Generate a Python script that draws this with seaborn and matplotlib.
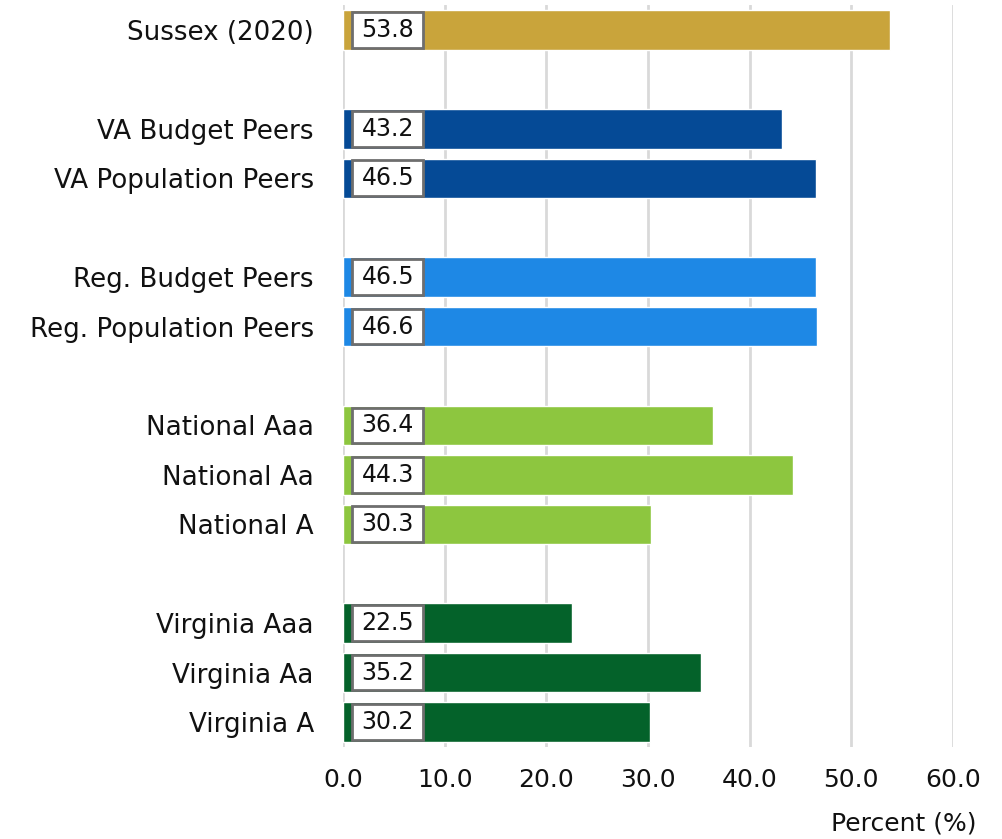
import matplotlib
matplotlib.use("Agg")
import matplotlib.pyplot as plt
import seaborn as sns
import pandas as pd

# Peer-group comparison values (percent)
categories = [
    "Sussex (2020)",
    "VA Budget Peers", "VA Population Peers",
    "Reg. Budget Peers", "Reg. Population Peers",
    "National Aaa", "National Aa", "National A",
    "Virginia Aaa", "Virginia Aa", "Virginia A",
]
values = [53.8, 43.2, 46.5, 46.5, 46.6, 36.4, 44.3, 30.3, 22.5, 35.2, 30.2]
groups = ["Sussex", "VA", "VA", "Reg", "Reg", "Nat", "Nat", "Nat", "Vir", "Vir", "Vir"]
group_colors = {
    "Sussex": "#C9A43B",
    "VA": "#054A96",
    "Reg": "#1E88E5",
    "Nat": "#8DC63F",
    "Vir": "#04622A",
}
xticks = [0, 10, 20, 30, 40, 50, 60]

# Row order with blank spacer rows between groups
order = []
prev = None
for cat, grp in zip(categories, groups):
    if prev is not None and grp != prev:
        order.append(f"__gap_{len(order)}")
    order.append(cat)
    prev = grp

df = pd.DataFrame({"category": categories, "value": values, "group": groups})
palette = {c: group_colors[g] for c, g in zip(categories, groups)}

sns.set_theme(style="white")
plt.rcParams["font.family"] = ["DejaVu Sans"]

fig = plt.figure(figsize=(10.03, 8.39), dpi=100)
ax = fig.add_axes([0.342, 0.11, 0.608, 0.8837])

sns.barplot(data=df, x="value", y="category", hue="category", order=order,
            palette=palette, dodge=False, legend=False, width=0.8,
            saturation=1, ax=ax, orient="h")

ax.set_xlim(0, 60)
ax.set_ylim(len(order) - 0.5, -0.5)
ax.set_xticks(xticks)
ax.set_xticklabels([f"{t:.1f}" for t in xticks], fontsize=18, color="#111111")
ax.set_yticks(range(len(order)))
ax.set_yticklabels([c if not c.startswith("__gap") else "" for c in order],
                   fontsize=18.8, color="#111111")
ax.tick_params(axis="x", length=0, pad=15)
ax.tick_params(axis="y", length=0, pad=21)
ax.set_xlabel("")
ax.set_ylabel("")
for s in ax.spines.values():
    s.set_visible(False)
ax.set_axisbelow(True)
ax.grid(axis="x", color="#D9D9D9", linewidth=2)
ax.grid(axis="y", visible=False)

# Value labels in white boxes at the start of each bar
ypos = {c: i for i, c in enumerate(order)}
for cat, val in zip(categories, values):
    y = ypos[cat]
    ax.barh(y, 7.0, left=0.9, height=0.72, color="white",
            edgecolor="#6E6E6E", linewidth=2, zorder=3)
    ax.text(4.4, y, f"{val:.1f}", ha="center", va="center",
            fontsize=17, color="#111111", zorder=4)

fig.text(0.974, 0.004, "Percent (%)", ha="right", va="bottom",
         fontsize=18, color="#111111")

fig.savefig("out.png", dpi=100)
